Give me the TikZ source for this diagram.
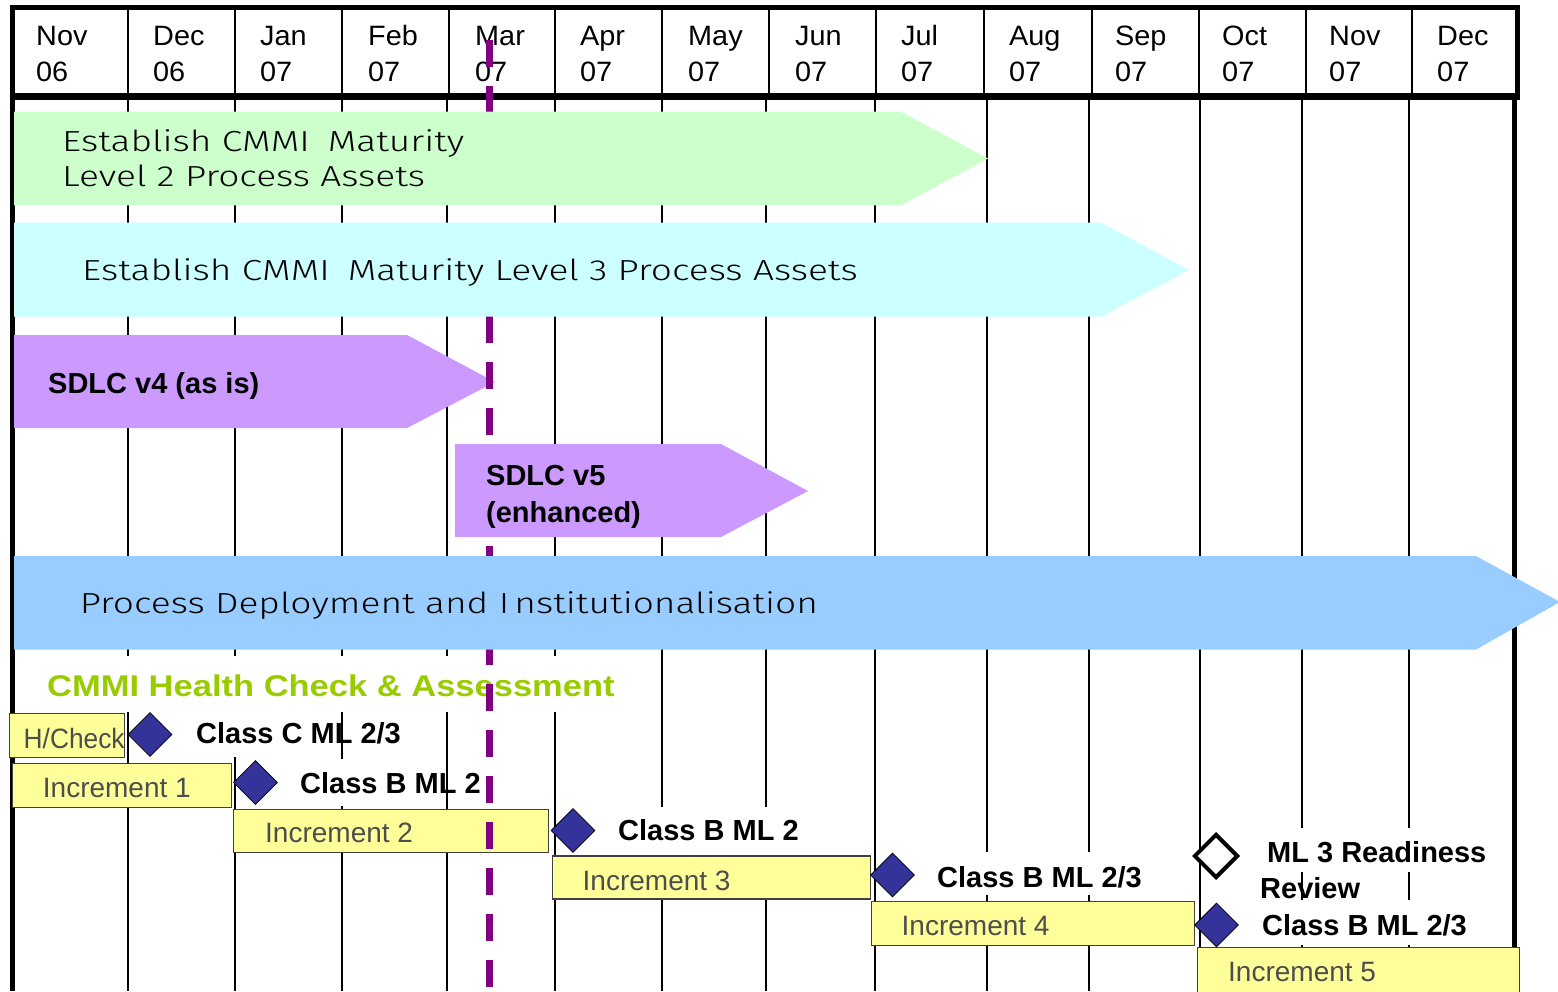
\documentclass[tikz,border=0pt]{standalone}
\usepackage{fontspec}
\usepackage{graphicx}
\setmainfont{Liberation Sans}
\IfFontExistsTF{Fira Sans Light}{\newfontfamily\barfont{Fira Sans Light}}{\newfontfamily\barfont{Fira Sans}}
\usetikzlibrary{shapes.geometric}
\definecolor{barGreen}{HTML}{CCFFCC}
\definecolor{barCyan}{HTML}{CCFFFF}
\definecolor{barPurple}{HTML}{CC99FF}
\definecolor{barBlue}{HTML}{99CCFF}
\definecolor{incYellow}{HTML}{FFFF99}
\definecolor{incText}{HTML}{4D4D4D}
\definecolor{hcGreen}{HTML}{99CC00}
\definecolor{msNavy}{HTML}{333399}
\definecolor{todayPurple}{HTML}{800080}
\newcommand{\barwide}[1]{\scalebox{1.28}[1]{#1}}
\begin{document}
\begin{tikzpicture}[x=1pt,y=-1pt,
  gridline/.style={line width=2pt,black},
  frameline/.style={line width=5pt,black},
  hdrtxt/.style={anchor=base west,inner sep=0pt,font=\fontsize{28}{33}\selectfont},
  bartxt/.style={anchor=base west,inner sep=0pt,font=\barfont\fontsize{29}{35}\selectfont,text=black},
  boldlbl/.style={anchor=base west,inner sep=0pt,font=\bfseries\fontsize{29}{35}\selectfont,text=black},
  incbox/.style={anchor=north west,fill=incYellow,draw=black!75,line width=1.2pt,inner sep=0pt},
  inctxt/.style={anchor=base west,inner sep=0pt,text=incText,font=\fontsize{28}{34}\selectfont},
  milestone/.style={diamond,fill=msNavy,draw=black,line width=0.8pt,minimum size=44pt,inner sep=0pt},
  openms/.style={diamond,fill=white,draw=black,line width=4pt,minimum size=44pt,inner sep=0pt},
  maskbox/.style={fill=white}]
\useasboundingbox (0,0) rectangle (1558,991);
\fill[white] (0,0) rectangle (1558,991);

% body grid lines
\foreach \x in {128,235,342,447,555,662,766,875,987,1089,1200,1302,1409}
  \draw[gridline] (\x,96) -- (\x,991);
% header grid lines
\foreach \x in {128,235,342,449,555,662,769,876,984,1092,1199,1306,1412}
  \draw[gridline] (\x,7) -- (\x,96);
% frame
\draw[frameline] (10,7) -- (1520,7);
\draw[line width=7pt] (10,96.5) -- (1520,96.5);
\draw[frameline] (12,5) -- (12,991);
\draw[frameline] (1517,5) -- (1517,99);
\draw[frameline] (1514,94) -- (1514,991);

% header labels
\foreach \x/\m/\yy [count=\i] in {36/Nov/06,153/Dec/06,260/Jan/07,368/Feb/07,475/Mar/07,580/Apr/07,688/May/07,795/Jun/07,901/Jul/07,1009/Aug/07,1115/Sep/07,1222/Oct/07,1329/Nov/07,1437/Dec/07}{
  \node[hdrtxt] (mon\i) at (\x,45.5) {\scalebox{1.03}[1]{\m}};
  \node[hdrtxt] (yr\i) at (\x,81.5) {\scalebox{1.03}[1]{\yy}};
}

% white masks behind labels
\fill[maskbox] (30,656) rectangle (620,712);
\fill[maskbox] (175,712) rectangle (330,757);
\fill[maskbox] (280,759) rectangle (400,806);
\fill[maskbox] (600,807) rectangle (810,855);
\fill[maskbox] (920,852) rectangle (1150,895);
\fill[maskbox] (1250,828) rectangle (1495,872);
\fill[maskbox] (1245,900) rectangle (1495,945);

% SDLC v4 bar (below the today line)
\fill[barPurple] (14,335) -- (407,335) -- (495,382) -- (407,428) -- (14,428) -- cycle;
\node[boldlbl] (v4) at (48,393.5) {SDLC v4 (as is)};

% labels
\node[boldlbl,text=hcGreen,font=\bfseries\fontsize{30}{36}\selectfont] (hc) at (47,696.7) {\scalebox{1.15}[1]{CMMI Health Check \& Assessment}};
\node[boldlbl] (lc1) at (196,743) {Class C ML 2/3};
\node[boldlbl] (lb1) at (300,793) {Class B ML 2};
\node[boldlbl] (lb2) at (618,840) {Class B ML 2};
\node[boldlbl] (lb3) at (937,887) {Class B ML 2/3};
\node[boldlbl] (lr1) at (1267,862) {ML 3 Readiness};
\node[boldlbl] (lr2) at (1260,898) {Review};
\node[boldlbl] (lb4) at (1262,935) {Class B ML 2/3};

% increments
\node[incbox,minimum width=115pt,minimum height=44pt] (hcbox) at (9,712.7) {};
\node[inctxt] (hct) at (23.5,748) {\scalebox{0.94}[1]{H/Check}};
\node[incbox,minimum width=219pt,minimum height=44pt] (inc1) at (12,762.7) {};
\node[inctxt] (inc1t) at (42.7,797) {Increment 1};
\node[incbox,minimum width=315pt,minimum height=43pt] (inc2) at (233,809) {};
\node[inctxt] (inc2t) at (265,842.7) {Increment 2};
\node[incbox,minimum width=318pt,minimum height=43pt] (inc3) at (551.5,855.3) {};
\node[inctxt] (inc3t) at (582.5,890) {Increment 3};
\node[incbox,minimum width=323pt,minimum height=44pt] (inc4) at (870.5,901) {};
\node[inctxt] (inc4t) at (901.5,935) {Increment 4};
\node[incbox,minimum width=322pt,minimum height=55pt] (inc5) at (1197,946.7) {};
\node[inctxt] (inc5t) at (1228,981.7) {Increment 5};

% milestones
\node[milestone] (d1) at (150,734.5) {};
\node[milestone] (d2) at (255.5,782.5) {};
\node[milestone] (d3) at (573,830.5) {};
\node[milestone] (d4) at (892.5,875) {};
\node[openms] (d5) at (1216,856) {};
\node[milestone] (d6) at (1216.5,925) {};

% today line
\coordinate (todayTop) at (489,40);
\coordinate (todayBot) at (489,991);
\draw[todayPurple,line width=7pt,dash pattern=on 27pt off 19pt] (todayTop) -- (todayBot);

% bars above the today line
\fill[barGreen] (14,111.7) -- (901,111.7) -- (988,158.5) -- (901,205.3) -- (14,205.3) -- cycle;
\node[bartxt] (g1) at (62,151.7) {\barwide{Establish CMMI\hspace{6pt} Maturity}};
\node[bartxt] (g2) at (62,186.7) {\barwide{Level 2 Process Assets}};
\fill[barCyan] (14,222.7) -- (1101,222.7) -- (1189,270) -- (1101,316.7) -- (14,316.7) -- cycle;
\node[bartxt] (c1) at (82,280) {\barwide{Establish CMMI\hspace{6pt} Maturity Level 3 Process Assets}};
\fill[barPurple] (455,444) -- (721,444) -- (808,491) -- (721,537) -- (455,537) -- cycle;
\node[boldlbl] (v5a) at (486,485) {SDLC v5};
\node[boldlbl] (v5b) at (486,522) {(enhanced)};
\fill[barBlue] (14,556) -- (1476,556) -- (1560,602) -- (1476,649.5) -- (14,649.5) -- cycle;
\node[bartxt] (b1) at (79.6,613) {\barwide{Process Deployment and I\hspace{4pt}nstitutionalisation}};
\end{tikzpicture}
\end{document}
